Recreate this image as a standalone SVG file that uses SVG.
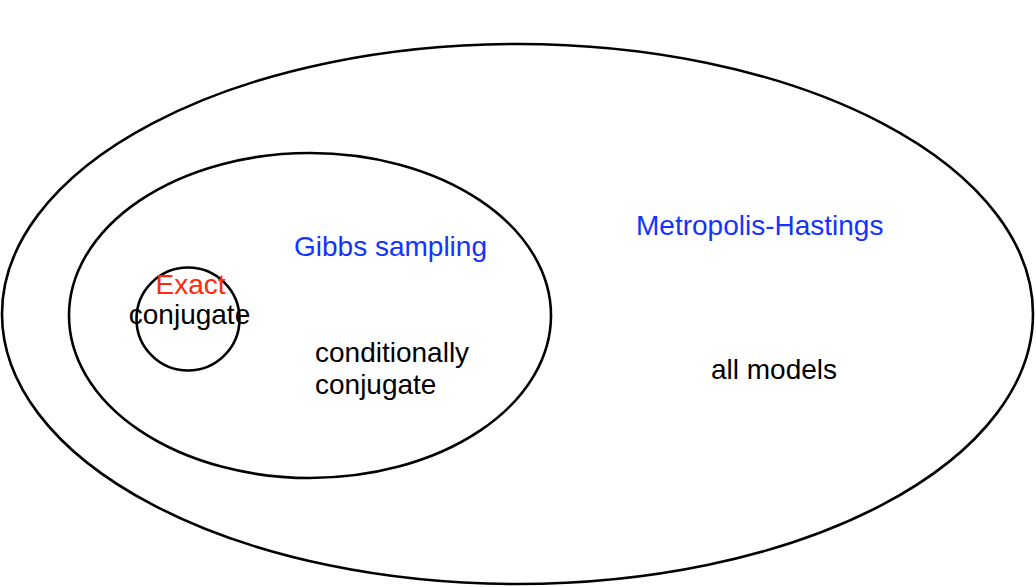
<svg xmlns="http://www.w3.org/2000/svg" width="1036" height="587" viewBox="0 0 1036 587">
<style>
.set{fill:none;stroke:#000;stroke-width:2.6}
.t{font-family:"Liberation Sans",Arial,sans-serif;font-size:28px}
.blue{fill:#1433ff}
.red{fill:#ff2a0a}
.blk{fill:#000}
</style>
<rect width="1036" height="587" fill="#fff"/>
<g id="metropolis-hastings">
<ellipse class="set" cx="517.5" cy="314" rx="515.5" ry="270"/>
<text class="t blue" x="636" y="235">Metropolis-Hastings</text>
<text class="t blk" x="711" y="379">all models</text>
</g>
<g id="gibbs">
<ellipse class="set" cx="310" cy="315.5" rx="241" ry="162.5"/>
<text class="t blue" x="294" y="256">Gibbs sampling</text>
<text class="t blk" x="315" y="362">conditionally</text>
<text class="t blk" x="315" y="394">conjugate</text>
</g>
<g id="exact">
<circle class="set" cx="188" cy="319" r="51.5"/>
<text class="t red" x="190.5" y="294" text-anchor="middle">Exact</text>
<text class="t blk" x="189.5" y="324" text-anchor="middle">conjugate</text>
</g>
<g id="connectors"></g>
</svg>
